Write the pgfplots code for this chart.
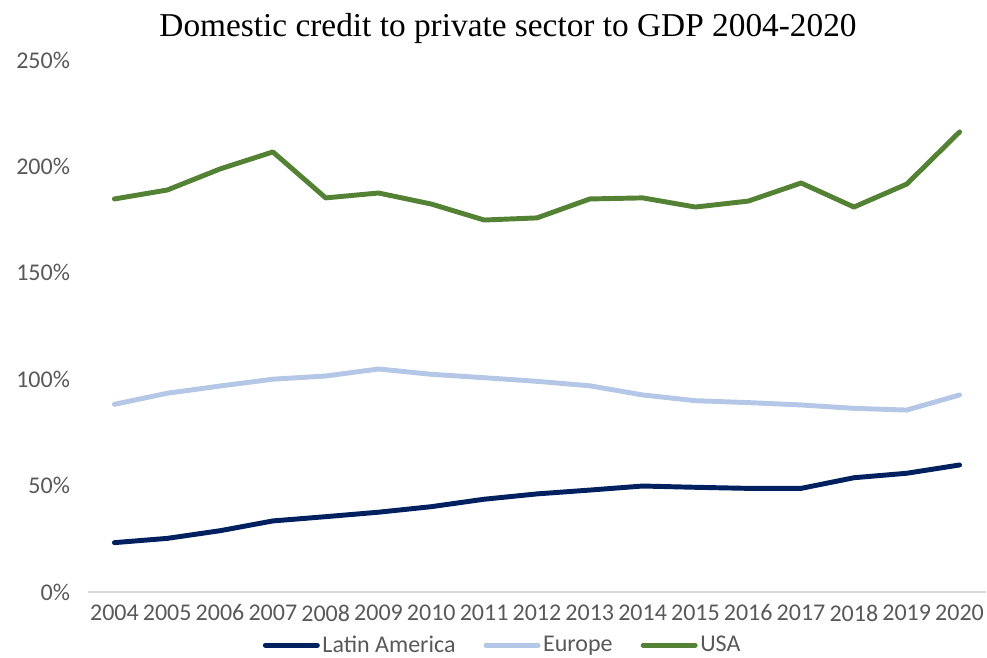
\documentclass[border=0pt]{standalone}
\usepackage{pgfplots}
\pgfplotsset{compat=1.18}
\usepackage{fontspec}
\setmainfont{Carlito}
\newfontfamily\titlefont{Liberation Serif}
\definecolor{cLA}{HTML}{002060}
\definecolor{cEU}{HTML}{B4C7E7}
\definecolor{cUS}{HTML}{548235}
\definecolor{cTick}{HTML}{595959}
\definecolor{cAxis}{HTML}{D9D9D9}
\begin{document}
\begin{tikzpicture}[x=0.75pt,y=0.75pt]
\begin{axis}[
  at={(0,0)}, anchor=south west,
  scale only axis, width=673.5pt, height=399pt,
  xmin=2003.5, xmax=2020.5, ymin=0, ymax=250,
  xtick={2004,...,2020},
  xticklabel style={/pgf/number format/1000 sep={}, font=\fontsize{18}{20}\selectfont, text=cTick, yshift=-6pt},
  ytick={0,50,...,250},
  yticklabel={\pgfmathprintnumber{\tick}\%},
  yticklabel style={font=\fontsize{18}{20}\selectfont, text=cTick, anchor=east, xshift=-10pt},
  /pgf/number format/assume math mode=true,
  axis x line*=bottom, axis y line*=left,
  x axis line style={draw=cAxis, line width=0.8pt, -},
  y axis line style={draw=none},
  tick style={draw=none},
  legend columns=3,
  legend style={draw=none, fill=none, at={(0.19,-0.100)}, anchor=west,
    font=\fontsize{18}{20}\selectfont, text=cTick,
    /tikz/every even column/.append style={column sep=19pt}},
  legend image code/.code={\draw[#1] (0pt,0pt) -- (39pt,0pt);},
  every axis plot/.append style={line width=3.7pt, line join=round, line cap=round},
]
\addplot[cLA] coordinates {
(2004,23.2)(2005,25.2)(2006,28.8)(2007,33.4)(2008,35.4)(2009,37.5)(2010,40.1)(2011,43.6)(2012,46.1)(2013,47.9)(2014,49.8)(2015,49.2)(2016,48.7)(2017,48.7)(2018,53.7)(2019,55.8)(2020,59.7)};
\addlegendentry{Latin America}
\addplot[cEU] coordinates {
(2004,88.2)(2005,93.4)(2006,96.8)(2007,100.0)(2008,101.5)(2009,104.8)(2010,102.3)(2011,100.7)(2012,99.0)(2013,96.9)(2014,92.6)(2015,89.9)(2016,89.0)(2017,87.9)(2018,86.3)(2019,85.5)(2020,92.6)};
\addlegendentry{Europe}
\addplot[cUS] coordinates {
(2004,184.7)(2005,188.9)(2006,198.8)(2007,206.8)(2008,185.2)(2009,187.5)(2010,182.3)(2011,174.8)(2012,175.8)(2013,184.7)(2014,185.2)(2015,180.9)(2016,183.7)(2017,192.2)(2018,180.9)(2019,191.7)(2020,216.2)};
\addlegendentry{USA}
\end{axis}
\node[font=\titlefont\fontsize{25}{28}\selectfont] at (420,564) {Domestic credit to private sector to GDP 2004-2020};
\pgfresetboundingbox
\useasboundingbox (-88,-65) rectangle (899,592);
\end{tikzpicture}
\end{document}
